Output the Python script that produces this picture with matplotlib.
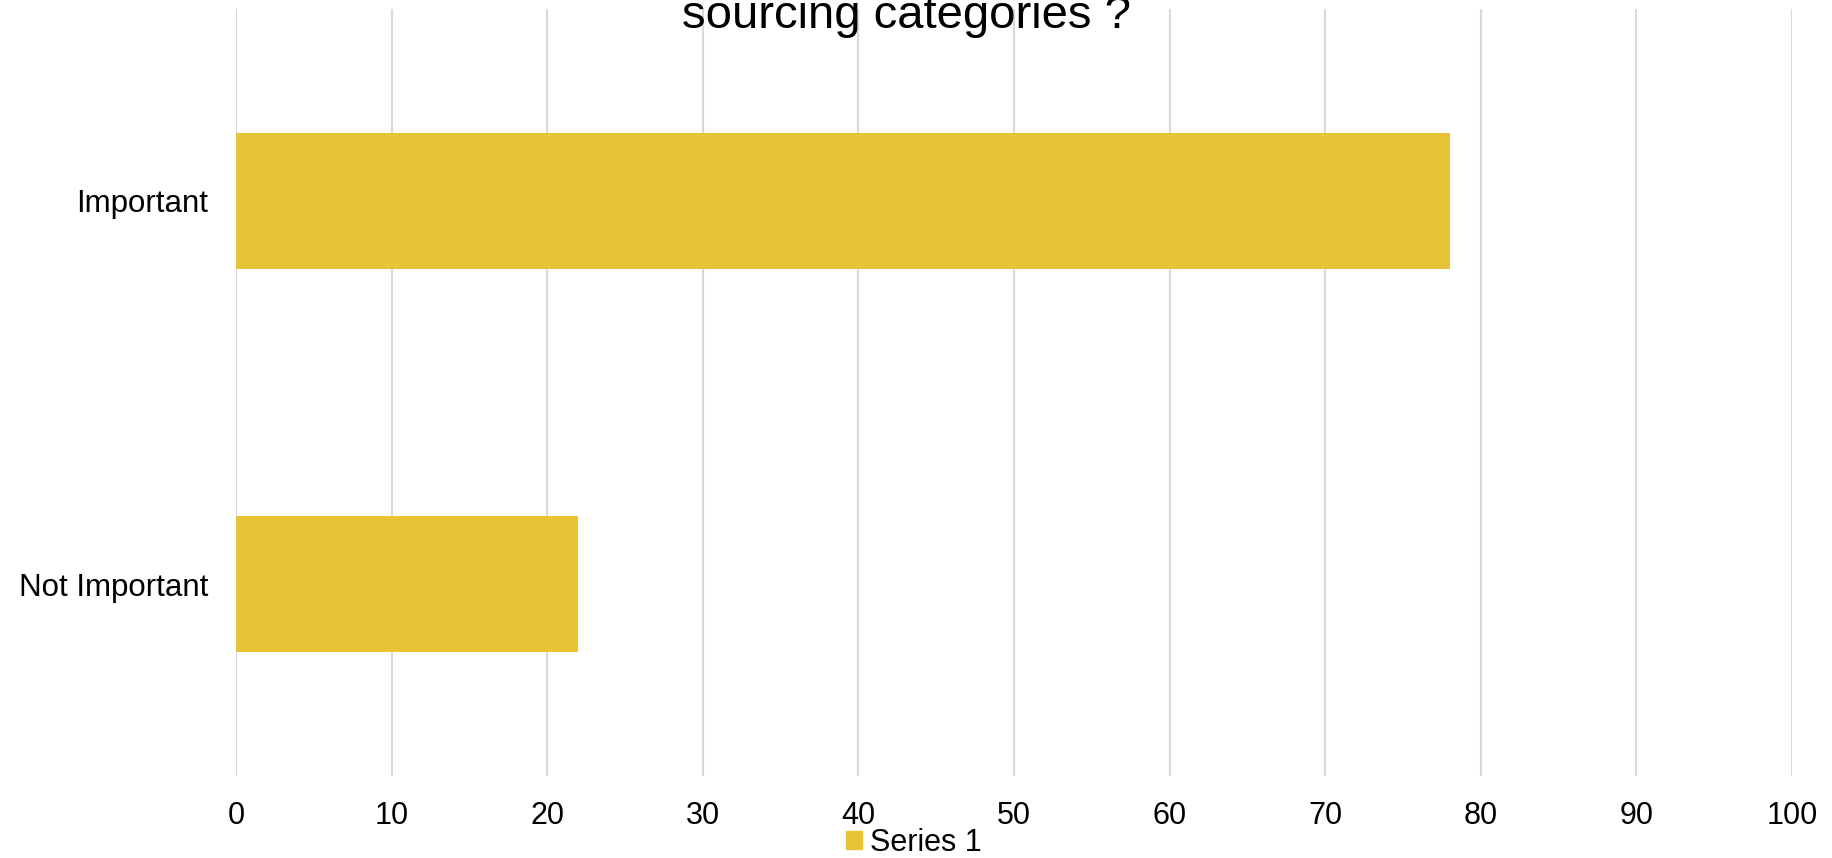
import matplotlib
matplotlib.use("Agg")
import matplotlib.pyplot as plt
from matplotlib.patches import Patch

plt.rcParams['font.family'] = ['Liberation Sans', 'DejaVu Sans']

categories = ["Important", "Not Important"]
values = [78, 22]
series_name = "Series 1"
x_ticks = [0, 10, 20, 30, 40, 50, 60, 70, 80, 90, 100]
title = "sourcing categories ?"

W, H = 1832, 858
fig = plt.figure(figsize=(W / 100, H / 100), dpi=100)
ax = fig.add_axes([236 / W, 1 - 776 / H, (1792 - 236) / W, (776 - 9) / H])

bar_color = "#E7C436"
ypos = list(range(len(categories)))
ax.barh(ypos, values, height=0.355, color=bar_color, zorder=3)

ax.set_xlim(0, 100)
ax.set_ylim(len(categories) - 0.5, -0.5)
ax.set_yticks(ypos)
ax.set_yticklabels(categories, fontsize=22.5)
ax.set_xticks(x_ticks)
ax.set_xticklabels([str(t) for t in x_ticks], fontsize=22)
ax.tick_params(axis='both', length=0)
ax.tick_params(axis='x', pad=18)
ax.tick_params(axis='y', pad=20)
ax.grid(axis='x', color='#D9D9D9', linewidth=1.5, zorder=0)
for s in ax.spines.values():
    s.set_visible(False)

fig.text(907 / W, 1 - 28.5 / H, title, fontsize=34, ha='center', va='baseline')

fig.legend(handles=[Patch(color=bar_color, label=series_name)],
           loc='center', bbox_to_anchor=(914 / W, 1 - 843 / H), frameon=False,
           fontsize=22, handlelength=0.52, handleheight=0.52, handletextpad=0.29,
           borderpad=0, borderaxespad=0)

fig.savefig("out.png", dpi=100)
